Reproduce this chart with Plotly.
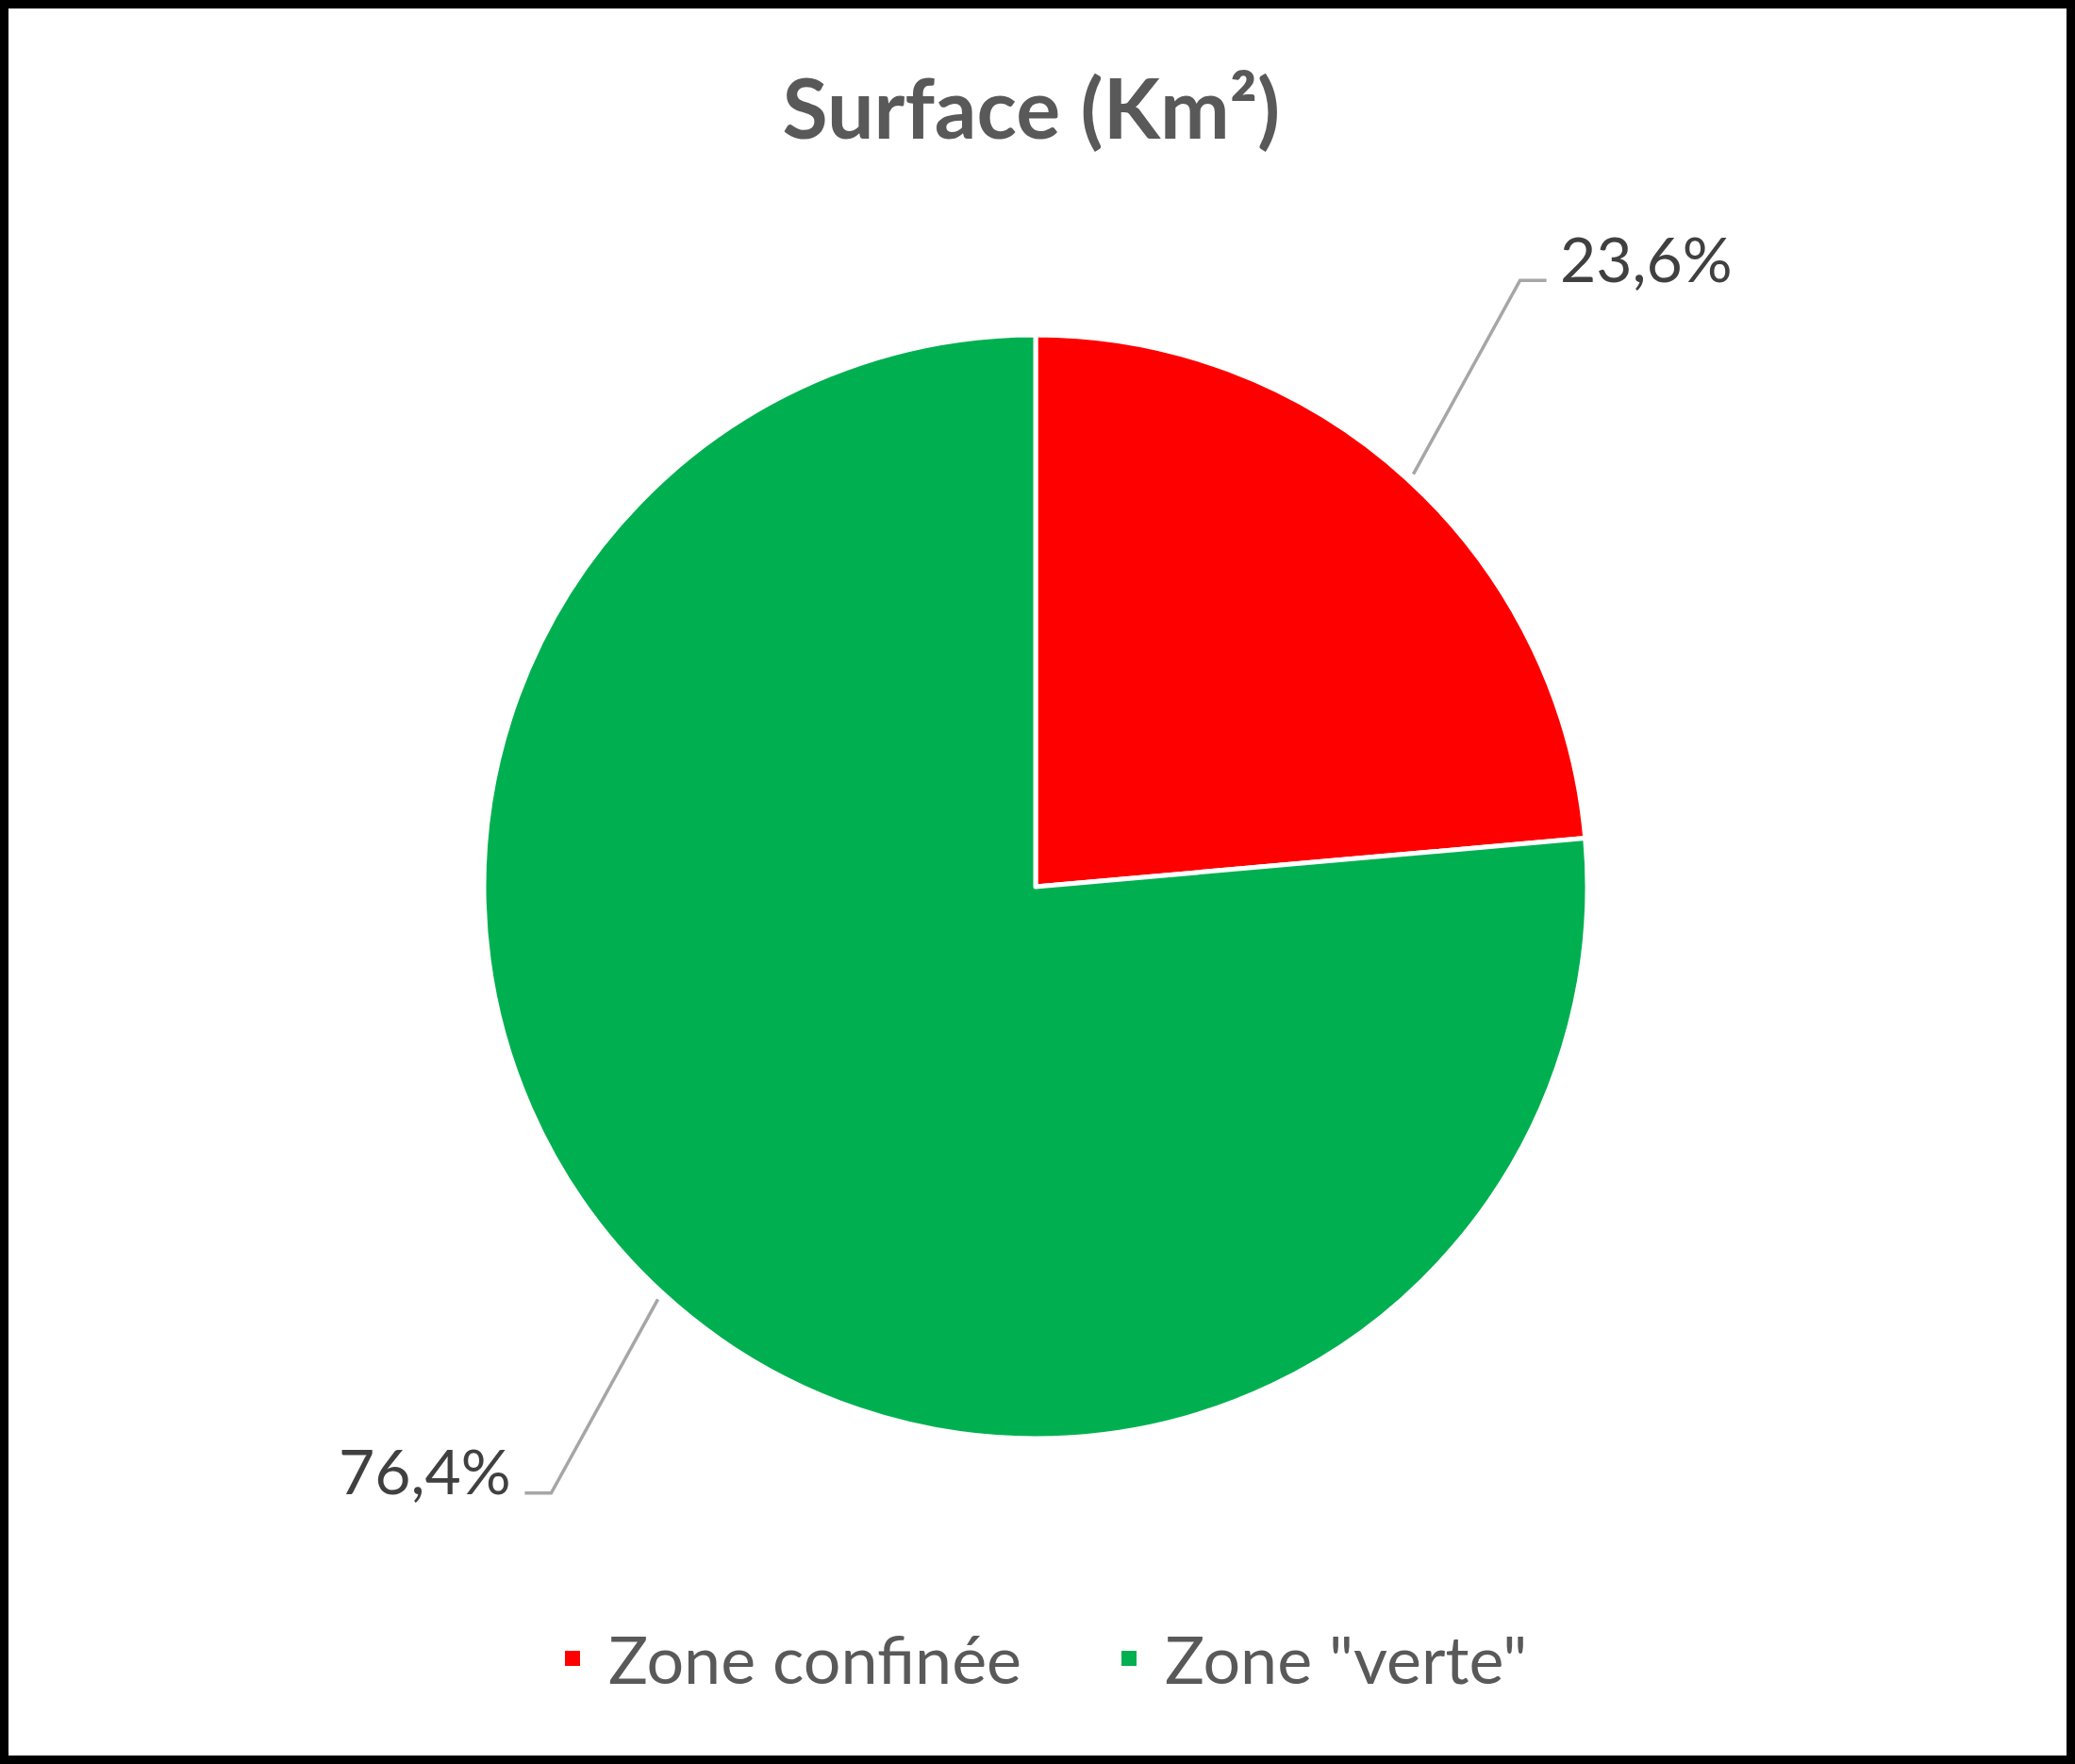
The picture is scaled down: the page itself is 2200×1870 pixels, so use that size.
import math
import plotly.graph_objects as go

# ---- data ----
categories = ["Zone confinée", 'Zone "verte"']
shares = [23.6, 76.4]
colors = ["#FF0000", "#00B050"]
title_text = "Surface (Km²)"

# ---- geometry (pixels, origin top-left) ----
W, H = 2200, 1870
cx, cy, r = 1098, 940, 585
FONT = "Lato, 'Open Sans', sans-serif"


def px(x):
    return x / W


def py(y):
    return 1 - y / H


fig = go.Figure(
    go.Pie(
        labels=categories,
        values=shares,
        sort=False,
        direction="clockwise",
        rotation=0,
        marker=dict(colors=colors, line=dict(color="white", width=5)),
        textinfo="none",
        hoverinfo="label+percent",
        showlegend=False,
        domain=dict(x=[px(cx - r), px(cx + r)], y=[py(cy + r), py(cy - r)]),
    )
)

# legend entries (square swatches)
for cat, col in zip(categories, colors):
    fig.add_trace(go.Scatter(
        x=[None], y=[None], mode="markers", name="\u00a0" + cat,
        marker=dict(symbol="square", size=16, color=col),
        hoverinfo="skip",
    ))

# leader lines and percentage labels computed from the data
total = sum(shares)
cum = 0.0
shapes = []
annotations = []
for val in shares:
    theta = 2 * math.pi * (cum + val / 2) / total
    cum += val
    s, c = math.sin(theta), math.cos(theta)
    side = 1 if s >= 0 else -1
    x0, y0 = cx + (r + 8) * s, cy - (r + 8) * c
    x1, y1 = cx + 1.3 * r * s, cy - 1.49 * r * c
    x2, y2 = x1 + side * 28, y1
    shapes.append(dict(
        type="path", xref="paper", yref="paper",
        path=f"M {px(x0)} {py(y0)} L {px(x1)} {py(y1)} L {px(x2)} {py(y2)}",
        line=dict(color="#A6A6A6", width=3.5),
    ))
    pct = f"{100 * val / total:.1f}".replace(".", ",") + "%"
    annotations.append(dict(
        x=px(x2 + side * 12), y=py(y1 - 24), xref="paper", yref="paper",
        text=pct, showarrow=False,
        xanchor="left" if side > 0 else "right", yanchor="middle",
        font=dict(family=FONT, size=66, color="#404040"),
    ))

# outer frame
shapes.append(dict(
    type="rect", xref="paper", yref="paper",
    x0=px(4.5), x1=px(W - 4.5), y0=py(H - 4.5), y1=py(4.5),
    line=dict(color="black", width=9), fillcolor="rgba(0,0,0,0)",
))

fig.update_layout(
    width=W, height=H,
    margin=dict(l=0, r=0, t=0, b=0),
    paper_bgcolor="white",
    plot_bgcolor="white",
    xaxis=dict(visible=False),
    yaxis=dict(visible=False),
    title=dict(
        text=f"<b>{title_text}</b>", x=0.497, xanchor="center",
        y=py(116), yanchor="middle",
        font=dict(family=FONT, size=88, color="#595959"),
    ),
    showlegend=True,
    legend=dict(
        orientation="h", x=0.535, xanchor="center", y=py(1758), yanchor="middle",
        font=dict(family=FONT, size=70, color="#595959"),
        itemclick=False, itemdoubleclick=False,
        entrywidth=545, entrywidthmode="pixels",
    ),
    shapes=shapes,
    annotations=annotations,
)

fig.write_html(
    "out.html",
    config={"displayModeBar": False},
    post_script="document.body.style.margin='0';document.body.style.overflow='hidden';",
)
